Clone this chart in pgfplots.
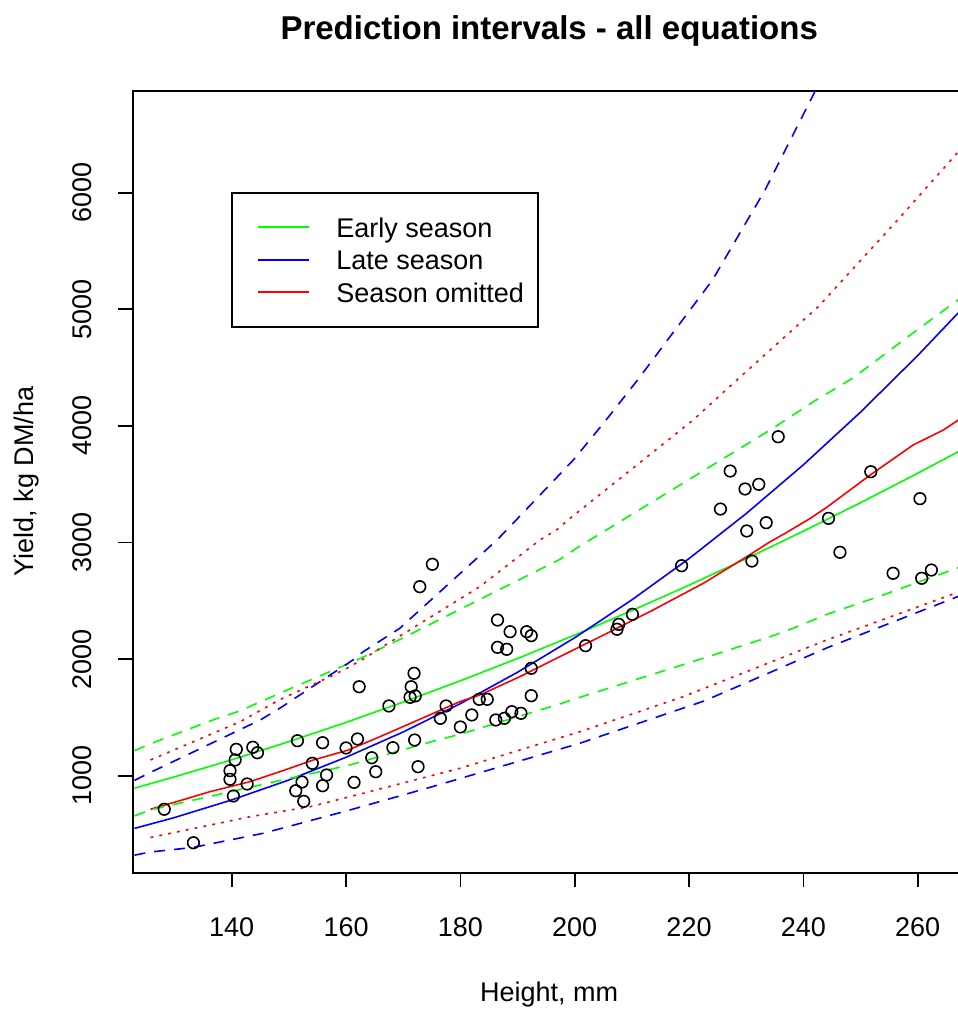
\documentclass[border=0pt]{standalone}
\usepackage{fontspec}
\setmainfont{Liberation Sans}
\usepackage{pgfplots}
\pgfplotsset{compat=1.18}
\begin{document}
\begin{tikzpicture}
\path[use as bounding box] (-66.35pt,-68.15pt) rectangle (412.65pt,436.35pt);
\begin{axis}[
  at={(0,0)}, anchor=south west,
  scale only axis, width=416.5pt, height=391pt,
  xmin=122.68, xmax=268.4, ymin=168, ymax=6875,
  axis line style={line width=0.85pt},
  every tick/.style={black, line width=0.85pt},
  tick align=outside, major tick length=7.2pt,
  xtick={140,160,...,260}, xticklabels={140,160,180,200,220,240,260},
  ytick={1000,2000,...,6000}, yticklabels={1000,2000,3000,4000,5000,6000},
  xtick pos=left, ytick pos=left,
  ticklabel style={font=\fontsize{13.5}{16}\selectfont},
  xticklabel style={anchor=base}, xticklabel shift=24.8pt,
  yticklabel style={rotate=90, anchor=base}, yticklabel shift=13.2pt,
  xlabel={Height, mm}, ylabel={Yield, kg DM/ha},
  label style={font=\fontsize{13.5}{16}\selectfont},
  xlabel style={at={(axis description cs:0.5,-0.16496)}, anchor=base},
  ylabel style={at={(axis description cs:-0.11933,0.5)}, anchor=base},
  title={Prediction intervals - all equations},
  every axis title shift=0pt,
  title style={at={(axis description cs:0.5,1.06547)}, anchor=base, font=\bfseries\fontsize{16.5}{20}\selectfont},
  legend cell align=left,
  legend image code/.code={\draw[#1] (0pt,0.2pt) -- (25.5pt,0.2pt);},
  legend style={at={(0.11801,0.87046)}, anchor=north west, draw=black, line width=0.85pt,
    inner xsep=12.5pt, inner ysep=10.9pt, row sep=3.15pt,
    font=\fontsize{13.5}{16}\selectfont,
    nodes={inner sep=0pt, text height=11.5pt, text depth=1.5pt}},
  dashed style/.style={dash pattern=on 5.5pt off 4.5pt},
  dotted style/.style={dash pattern=on 1.4pt off 3.1pt},
]
% fitted lines
\addplot[green, line width=0.8pt, no marks, forget plot] coordinates {
(123,893) (130,990) (140,1136) (150,1292) (160,1457) (170,1631) (180,1814) (190,2005)
(200,2206) (210,2416) (220,2634) (230,2861) (240,3097) (250,3341) (260,3594) (268,3802)};
\addplot[blue, line width=0.8pt, no marks, forget plot] coordinates {
(123,548) (130,641) (140,792) (150,963) (160,1158) (170,1375) (180,1618) (190,1887)
(200,2183) (210,2508) (220,2862) (230,3248) (240,3666) (250,4118) (260,4603) (268,5016)};
\addplot[red, line width=0.8pt, no marks, forget plot] coordinates {
(125.8,712) (130,772) (136.2,863) (143.2,949) (149.3,1049) (154.3,1135) (160.4,1220)
(165.9,1334) (171.8,1460) (179.9,1635) (183.4,1692) (190.4,1849) (197.4,2021) (205.0,2205)
(213.7,2421) (222.5,2650) (230.1,2878) (234.2,3007) (236.8,3078) (241.2,3207) (244.1,3302)
(251.7,3579) (259.2,3836) (264.5,3965) (268,4080)};
% prediction intervals
\addplot[green, line width=0.8pt, dashed style, no marks, forget plot] coordinates {
(123,1215) (125.7,1272) (136.7,1478) (141.5,1557) (148.4,1707) (161.9,1992) (169.4,2168)
(197.4,2855) (200.6,2960) (234.2,3965) (242.0,4215) (248.6,4408) (258.3,4765) (268,5115)};
\addplot[green, line width=0.8pt, dashed style, no marks, forget plot] coordinates {
(123,655) (125.7,706) (150.2,978) (160.7,1092) (175.2,1295) (179.9,1355) (197.4,1615)
(199.8,1655) (221.9,1998) (234.2,2192) (238.4,2268) (244.3,2387) (253.1,2535) (268,2800)};
\addplot[blue, line width=0.8pt, dashed style, no marks, forget plot] coordinates {
(123,960) (125.7,1026) (145.0,1478) (148.4,1578) (153.7,1750) (161.2,1992) (163.0,2063)
(169.4,2264) (186.4,3021) (188.1,3107) (199.75,3707) (205.0,4020) (211.1,4400) (224.1,5251)
(233.3,6023) (242.1,6875) (243.5,7020)};
\addplot[blue, line width=0.8pt, dashed style, no marks, forget plot] coordinates {
(123,318) (125.7,345) (133.3,385) (145.5,506) (160.7,706) (174.7,900) (200.9,1278)
(222.6,1640) (244.3,2100) (268,2555)};
\addplot[red, line width=0.8pt, dotted style, no marks, forget plot] coordinates {
(125.8,1135) (141.5,1463) (148.4,1652) (157.2,1849) (160.1,1920) (163.0,2000) (165.9,2090)
(171.8,2270) (183.4,2621) (193.9,3021) (196.8,3107) (199.2,3207) (220.7,4050) (228.7,4408)
(242.6,5022) (256.5,5766) (268,6400)};
\addplot[red, line width=0.8pt, dotted style, no marks, forget plot] coordinates {
(125.8,470) (143.2,648) (153.7,734) (160.7,820) (179.9,1063) (200.9,1377) (219.0,1678)
(244.1,2164) (268,2590)};
% observations
\addplot[only marks, mark=o, mark size=2.9pt, black, line width=0.8pt, forget plot] coordinates {
(128.2,712) (133.3,425) (139.7,1043) (139.7,969) (140.3,826) (140.6,1135) (140.8,1226)
(142.7,929) (143.7,1244) (144.5,1197) (151.2,871) (151.5,1300) (152.3,946) (152.6,780)
(154.1,1106) (155.9,1283) (155.9,914) (156.6,1006) (160.0,1238) (161.4,943) (162.0,1315)
(162.3,1763) (164.5,1154) (165.2,1034) (167.5,1598) (168.2,1240) (171.2,1672) (171.4,1763)
(171.9,1878) (172.1,1684) (172.0,1306) (172.6,1077) (172.9,2621) (175.1,2813) (176.5,1492)
(177.5,1598) (180.0,1418) (182.0,1521) (183.3,1655) (184.7,1655) (186.2,1478) (186.5,2101)
(186.5,2335) (187.7,1492) (188.1,2084) (188.7,2235) (189.0,1549) (190.6,1535) (191.6,2235)
(192.4,2201) (192.4,1921) (192.4,1686) (201.9,2115) (207.4,2256) (207.7,2298) (210.1,2384)
(218.7,2801) (225.5,3287) (227.2,3613) (229.8,3459) (230.1,3099) (231.0,2841) (232.2,3499)
(233.5,3170) (235.6,3907) (244.4,3207) (246.4,2916) (251.8,3607) (255.7,2736) (260.4,3376)
(260.7,2693) (262.4,2764)};
% legend
\addlegendimage{green, line width=1pt}
\addlegendentry{\hspace{13.25pt}Early season\kern-5.5pt}
\addlegendimage{blue, line width=1pt}
\addlegendentry{\hspace{13.25pt}Late season\kern-5.5pt}
\addlegendimage{red, line width=1pt}
\addlegendentry{\hspace{13.25pt}Season omitted\kern-5.5pt}
\end{axis}
\end{tikzpicture}
\end{document}
